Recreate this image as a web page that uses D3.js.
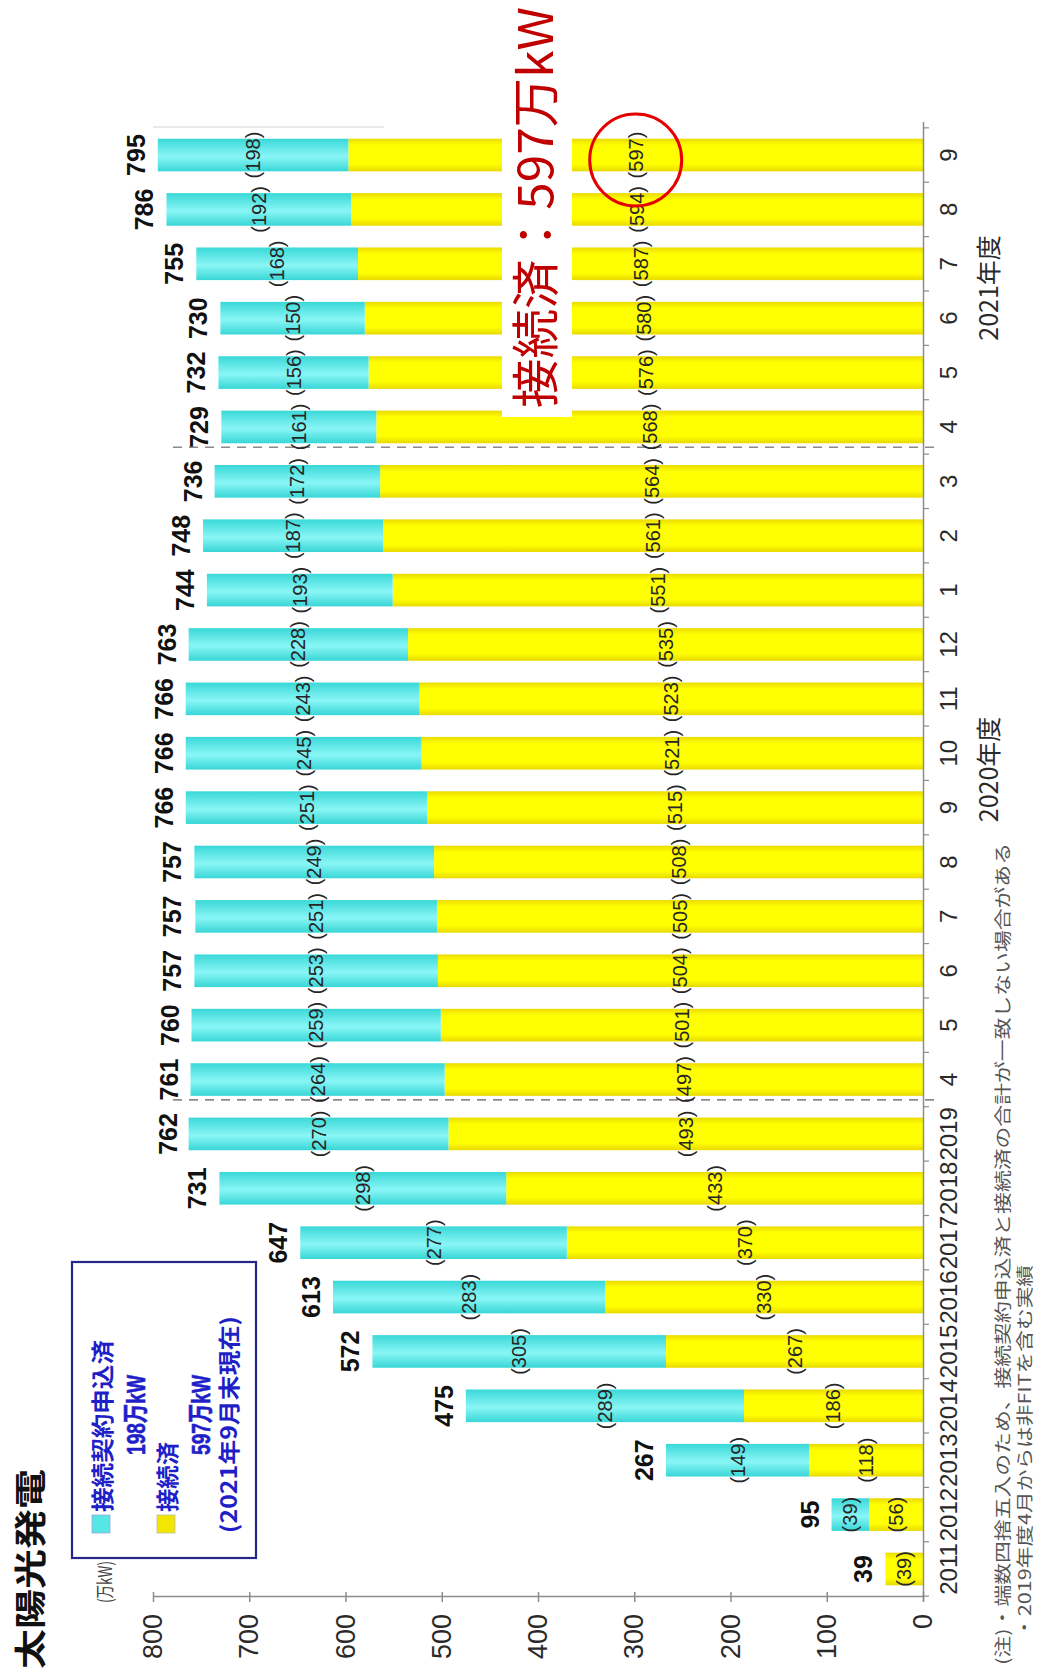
<!DOCTYPE html>
<html><head><meta charset="utf-8">
<script src="https://cdn.jsdelivr.net/npm/d3@7"></script>
<style>html,body{margin:0;padding:0;background:#fff;} svg{display:block;}</style>
</head><body>
<svg id="chart" width="1041" height="1675"></svg>
<script>
// ---------- data ----------
const catLabels = ["2011","2012","2013","2014","2015","2016","2017","2018","2019",
  "4","5","6","7","8","9","10","11","12","1","2","3",
  "4","5","6","7","8","9"];
const totals    = [39,95,267,475,572,613,647,731,762,761,760,757,757,757,766,766,766,763,744,748,736,729,732,730,755,786,795];
const applied   = [null,39,149,289,305,283,277,298,270,264,259,253,251,249,251,245,243,228,193,187,172,161,156,150,168,192,198];
const connected = [39,56,118,186,267,330,370,433,493,497,501,504,505,508,515,521,523,535,551,561,564,568,576,580,587,594,597];
const valueTicks = [0,100,200,300,400,500,600,700,800];
const fiscalYearLabels = ["2020年度","2021年度"];
const fiscalYearBetween = [[14,15],[23,24]];
const fiscalStarts = [9,21];
const title = "太陽光発電";
const unitLabel = "(万kW)";
const legendLines = ["接続契約申込済","198万kW","接続済","597万kW","(2021年9月末現在)"];
const noteLines = ["(注)・端数四捨五入のため、接続契約申込済と接続済の合計が一致しない場合がある",
                   "・2019年度4月からは非FITを含む実績"];
const annotation = "接続済：597万kW";
const highlightIndex = 26;

// ---------- setup ----------
const W = 1041, H = 1675;
const svg = d3.select("#chart");
const defs = svg.append("defs");
function grad(id, stops){
  const lg = defs.append("linearGradient").attr("id",id)
    .attr("x1","0").attr("x2","1").attr("y1","0").attr("y2","0");
  stops.forEach(([o,c]) => lg.append("stop").attr("offset",o).attr("stop-color",c));
}
grad("gCyan",   [["0%","#38d6d6"],["45%","#8af6f6"],["100%","#3ad8d8"]]);
grad("gYellow", [["0%","#e8da00"],["22%","#ffff00"],["80%","#ffff00"],["100%","#eadb00"]]);

// rotated drawing group: gx runs bottom->top of the page, gy runs left->right
const g = svg.append("g").attr("transform", `translate(0,${H}) rotate(-90)`);

const LAT = "'Liberation Sans', Arial, sans-serif";
const CJK = "'Noto Sans CJK JP', 'Noto Sans', sans-serif";
const MIX = "'Liberation Sans', 'Noto Sans CJK JP', sans-serif";

const x = d3.scaleBand().domain(d3.range(catLabels.length))
  .range([73.4, 1552.6]).paddingInner(0.4).paddingOuter(0.3);
const y = d3.scaleLinear().domain([0,800]).range([923,153]);
const bw = x.bandwidth();
const cx = i => x(i) + bw/2;

// faint top line
g.append("line").attr("x1", 1548).attr("x2", 1548).attr("y1", y(800)).attr("y2", y(560))
  .attr("stroke", "#e2e2e2").attr("stroke-width", 1.5);

// ---------- bars ----------
connected.forEach((d,i) => {
  g.append("rect").attr("x", x(i)).attr("width", bw)
    .attr("y", y(d)).attr("height", y(0) - y(d))
    .attr("fill", "url(#gYellow)");
});
applied.forEach((d,i) => {
  if (d == null) return;
  g.append("rect").attr("x", x(i)).attr("width", bw)
    .attr("y", y(connected[i] + d)).attr("height", y(connected[i]) - y(connected[i] + d))
    .attr("fill", "url(#gCyan)");
});

// ---------- fiscal-year separators ----------
fiscalStarts.forEach(i => {
  g.append("line").attr("x1", x(i) - 4).attr("x2", x(i) - 4)
    .attr("y1", 173).attr("y2", 935)
    .attr("stroke", "#8a8a8a").attr("stroke-width", 1.6).attr("stroke-dasharray", "9,7");
});

// ---------- axes ----------
const yAxis = d3.axisLeft(y).tickValues(valueTicks).tickSize(5).tickPadding(12).tickSizeOuter(0);
const yAx = g.append("g").attr("transform", "translate(78,0)").call(yAxis);
yAx.select(".domain").attr("stroke", "#8c8c8c").attr("stroke-width", 1.5);
yAx.selectAll(".tick line").attr("x1", -5).attr("x2", 5).attr("stroke", "#8c8c8c").attr("stroke-width", 1.5);
yAx.selectAll(".tick text").attr("font-family", LAT).attr("font-size", 27).attr("fill", "#2a2a2a");

const xAxis = d3.axisBottom(x).tickFormat(i => catLabels[i]).tickSize(0).tickPadding(17).tickSizeOuter(0);
const xAx = g.append("g").attr("transform", "translate(0,923)").call(xAxis);
xAx.select(".domain").attr("stroke", "#8c8c8c").attr("stroke-width", 1.5);
xAx.selectAll(".tick text").attr("font-family", LAT).attr("font-size", 24).attr("fill", "#2a2a2a");
// boundary ticks between categories
d3.range(catLabels.length + 1).forEach(k => {
  const gx = x(0) - (x.step() - bw)/2 + k * x.step();
  g.append("line").attr("x1", gx).attr("x2", gx).attr("y1", 923).attr("y2", 929)
    .attr("stroke", "#8c8c8c").attr("stroke-width", 1.2);
});

// fiscal year labels
const fyShift = [11, 3];
fiscalYearLabels.forEach((t,k) => {
  const [a,b] = fiscalYearBetween[k];
  g.append("text").attr("x", (cx(a) + cx(b))/2 + fyShift[k]).attr("y", 998)
    .attr("text-anchor", "middle").attr("font-family", CJK).attr("font-size", 25)
    .attr("fill", "#2a2a2a").text(t);
});

// ---------- value labels ----------
g.selectAll("text.total").data(totals).join("text").attr("class","total")
  .attr("x", (d,i) => cx(i)).attr("y", d => y(d) - 13)
  .attr("text-anchor", "middle").attr("font-family", LAT).attr("font-weight", "bold")
  .attr("font-size", 25).attr("fill", "#111").text(d => d);

g.selectAll("text.conn").data(connected).join("text").attr("class","conn")
  .attr("x", (d,i) => cx(i)).attr("y", d => y(d/2)).attr("dy", "0.35em")
  .attr("text-anchor", "middle").attr("font-family", LAT)
  .attr("font-size", 20).attr("fill", "#262626").text(d => `(${d})`);

applied.forEach((d,i) => {
  if (d == null) return;
  g.append("text").attr("x", cx(i)).attr("y", y(connected[i] + d/2)).attr("dy", "0.35em")
    .attr("text-anchor", "middle").attr("font-family", LAT)
    .attr("font-size", 20).attr("fill", "#262626").text(`(${d})`);
});

// ---------- title, unit, legend ----------
g.append("text").attr("x", 6).attr("y", 42).attr("font-family", CJK).attr("font-weight", "bold")
  .attr("font-size", 32).attr("fill", "#111").attr("textLength", 200).attr("lengthAdjust", "spacingAndGlyphs")
  .text(title);

g.append("rect").attr("x", 117).attr("y", 72).attr("width", 296).attr("height", 184)
  .attr("fill", "#fff").attr("stroke", "#25258a").attr("stroke-width", 2.2);
g.append("text").attr("x", 72).attr("y", 112).attr("font-family", CJK)
  .attr("font-size", 19).attr("fill", "#444").attr("textLength", 42).attr("lengthAdjust", "spacingAndGlyphs")
  .text(unitLabel);
g.append("rect").attr("x", 142).attr("y", 92).attr("width", 18).attr("height", 18)
  .attr("fill", "#55e6e6").attr("stroke", "#9ad").attr("stroke-width", 0.8);
g.append("rect").attr("x", 142).attr("y", 157).attr("width", 18).attr("height", 18)
  .attr("fill", "#f2e600").attr("stroke", "#bba").attr("stroke-width", 0.8);
const legPos = [[163,111,172,23,CJK,0],[220,145,80,26,MIX,0.6],[163,176,70,23,CJK,0],[220,210,80,26,MIX,0.6],[142,237,217,22,CJK,0]];
legendLines.forEach((t,k) => {
  const [lx,ly,len,fs,ff,sw] = legPos[k];
  g.append("text").attr("x", lx).attr("y", ly).attr("font-family", ff).attr("font-weight", "bold")
    .attr("font-size", fs).attr("fill", "#1f1fc8")
    .attr("stroke", sw ? "#1f1fc8" : "none").attr("stroke-width", sw)
    .attr("textLength", len).attr("lengthAdjust", "spacingAndGlyphs")
    .text(t);
});

// ---------- notes ----------
const notePos = [[10,1009,822],[37,1031,373]];
noteLines.forEach((t,k) => {
  const [nx,ny,len] = notePos[k];
  g.append("text").attr("x", nx).attr("y", ny).attr("font-family", CJK)
    .attr("font-size", 17).attr("fill", "#555").attr("textLength", len).attr("lengthAdjust", "spacingAndGlyphs")
    .text(t);
});

// ---------- annotation ----------
g.append("rect").attr("x", 1258).attr("y", 502).attr("width", H - 1258).attr("height", 70).attr("fill", "#fff");
g.append("text").attr("x", 1267).attr("y", 553).attr("font-family", CJK)
  .attr("font-size", 48).attr("fill", "#c00000").attr("textLength", 401).attr("lengthAdjust", "spacingAndGlyphs")
  .text(annotation);
g.append("circle").attr("cx", cx(highlightIndex) - 5).attr("cy", y(connected[highlightIndex]/2))
  .attr("r", 46).attr("fill", "none").attr("stroke", "#e60000").attr("stroke-width", 3);
</script>
</body></html>
